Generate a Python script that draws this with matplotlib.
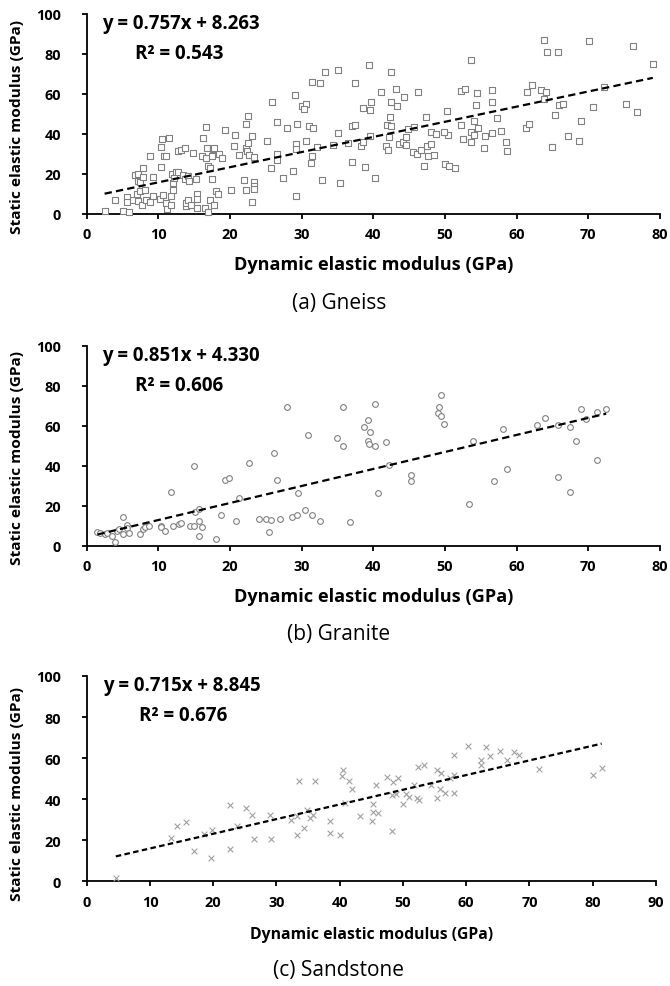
import numpy as np
import matplotlib
matplotlib.use("Agg")
import matplotlib.pyplot as plt

plt.rcParams['font.family'] = ['Open Sans', 'DejaVu Sans']

# (a) Gneiss: dynamic vs static elastic modulus [GPa]
gneiss_x = [2.5, 4.0, 5.1, 5.6, 5.6, 5.9, 6.4, 6.8, 7.2, 7.1, 7.5, 7.0, 7.4, 7.9, 7.9, 7.1, 7.7, 8.2, 8.3,
            8.8, 9.2, 9.2, 8.9, 10.4, 10.5, 10.4, 10.8, 11.0, 11.5, 10.2, 10.7, 11.0, 11.2, 11.7, 11.8, 12.0,
            12.1, 11.9, 12.4, 12.2, 12.8, 12.8, 13.2, 13.7, 13.4, 13.7, 13.8, 13.8, 14.1, 14.2, 14.3, 14.6,
            14.9, 15.3, 15.4, 15.4, 15.4, 16.2, 16.1, 16.6, 16.8, 16.6, 16.9, 17.2, 16.5, 16.9, 17.2, 17.5,
            17.6, 17.5, 17.8, 17.8, 18.1, 18.3, 18.5, 18.9, 19.3, 20.1, 20.6, 20.7, 21.3, 21.9, 22.2, 22.3,
            22.2, 22.5, 22.2, 22.5, 22.6, 23.0, 23.1, 23.3, 23.4, 23.4, 23.4, 25.2, 25.7, 25.9, 26.6, 26.6,
            26.6, 27.4, 27.9, 28.8, 29.1, 29.2, 29.2, 29.2, 29.4,
            30.1, 30.6, 30.3, 31.0, 31.6, 30.6, 31.4, 31.3, 31.4, 32.5, 33.3, 32.2, 32.9, 34.3, 35.1, 35.0,
            35.4, 36.5, 37.0, 37.4, 37.0, 37.4, 38.3, 38.6, 38.9, 38.6, 39.4, 39.5, 39.7, 39.5, 40.2, 41.0,
            41.7, 42.0, 42.2, 42.3, 41.9, 42.4, 42.5, 42.4, 43.2, 43.3, 43.6, 44.3, 44.1, 44.5, 44.6, 44.9,
            45.5, 45.7, 46.1, 46.3, 46.6, 47.1, 47.3, 47.5, 47.6,
            48.1, 48.7, 48.0, 48.5, 50.3, 50.0, 50.4, 50.5, 51.4, 49.8, 52.2, 52.8, 52.2, 52.5, 53.6, 53.6,
            53.6, 54.1, 54.1, 54.3, 54.5, 54.6, 55.4, 55.6, 56.5, 56.6, 56.6, 57.2, 57.8, 58.5, 58.6, 61.3,
            61.7, 61.5, 62.1, 63.4, 63.8, 64.2, 65.7, 63.8, 64.1, 65.9, 65.4, 66.5, 64.9, 67.2, 68.7, 69.0,
            70.1, 70.7, 72.2, 76.3, 75.2, 76.8, 79.0]
gneiss_y = [1.3, 7.2, 1.5, 8.7, 5.8, 1.2, 7.2, 19.7, 20.2, 16.7, 16.2, 10.2, 11.7, 22.8, 18.3, 6.7, 4.5, 12.2, 7.0,
            29.2, 18.5, 9.0, 6.2, 23.5, 37.5, 33.3, 29.2, 28.8, 37.8, 7.5, 9.5, 5.5, 2.5, 8.8, 4.7, 12.2,
            15.3, 20.2, 20.8, 17.8, 21.0, 31.3, 32.2, 33.0, 19.5, 17.5, 4.2, 5.3, 6.8, 19.2, 16.7, 4.5,
            30.3, 17.5, 10.0, 7.5, 3.2, 38.0, 29.2, 43.3, 32.8, 28.2, 24.2, 23.0, 2.8, 0.8, 7.0, 17.5,
            32.7, 28.8, 32.8, 4.5, 11.7, 10.0, 30.0, 28.2, 42.2, 12.2, 34.2, 39.5, 29.5, 17.0, 32.8, 31.5,
            12.2, 49.2, 45.0, 35.3, 29.5, 39.2, 6.2, 28.7, 15.8, 14.2, 12.5, 36.7, 23.2, 56.2, 46.2, 30.0,
            27.2, 17.8, 42.8, 21.3, 59.5, 35.2, 32.5, 8.8, 45.2,
            54.0, 55.0, 52.5, 44.2, 43.2, 36.7, 28.8, 25.3, 66.2, 65.3, 70.8, 33.3, 17.0, 34.5, 72.0, 40.7,
            15.5, 35.3, 44.2, 44.5, 25.8, 65.3, 33.8, 52.8, 23.5, 36.2, 74.5, 52.2, 56.2, 38.8, 17.8, 60.8,
            33.8, 32.2, 38.7, 48.7, 44.5, 43.8, 71.2, 56.2, 62.5, 53.8, 35.2, 58.3, 35.8, 38.3, 34.5, 42.5,
            30.8, 43.3, 30.0, 60.8, 32.2, 24.2, 48.3, 34.2, 29.2,
            41.2, 39.8, 35.2, 29.5, 51.5, 25.2, 39.3, 24.2, 23.2, 41.2, 61.5, 62.3, 44.7, 37.3, 76.8, 41.0,
            36.0, 39.5, 46.5, 54.5, 60.5, 42.8, 33.2, 39.2, 56.0, 62.0, 40.5, 48.2, 41.5, 35.8, 31.7, 42.8,
            45.0, 61.2, 64.3, 61.8, 87.2, 81.2, 80.8, 57.5, 60.8, 54.5, 49.3, 55.0, 33.7, 38.8, 36.3, 46.7,
            86.7, 53.3, 63.3, 84.2, 55.0, 51.0, 75.0]

# (b) Granite
granite_x = [1.5, 1.9, 2.5, 2.8, 3.5, 3.9, 4.2, 4.5, 5.0, 5.0, 5.6, 5.6, 5.9, 7.5, 7.9, 8.1, 8.7, 10.3, 10.4,
             10.9, 11.7, 12.0, 12.9, 13.2, 14.4, 15.0, 15.0, 15.1, 15.7, 15.7, 15.7, 16.1, 18.0, 18.8, 19.3,
             19.9, 20.9, 21.3, 22.7, 24.1, 25.0, 25.7, 25.5, 26.2, 26.6, 27.0, 27.9, 28.6, 29.3, 29.5, 30.4,
             30.9, 31.4, 32.5, 34.9, 35.7, 35.7, 36.7, 38.7, 39.2, 39.5, 39.3, 39.4, 40.2, 40.2, 40.7, 41.7,
             42.2, 45.3, 45.2, 49.5, 49.2, 49.0, 49.4, 49.8, 53.3, 53.9, 56.8, 58.1, 58.7, 62.9, 64.0, 65.7,
             65.8, 67.5, 67.5, 68.3, 69.0, 69.7, 71.2, 71.2, 72.5]
granite_y = [7.0, 6.2, 5.8, 6.2, 5.0, 1.7, 7.2, 8.4, 5.9, 14.5, 10.4, 8.7, 6.4, 5.9, 8.4, 9.2, 10.0, 10.0, 9.2,
             7.2, 26.7, 10.0, 10.9, 11.4, 10.0, 10.0, 40.0, 16.7, 18.4, 12.5, 5.0, 9.2, 3.5, 15.2, 33.0,
             33.8, 12.5, 23.9, 41.5, 13.4, 13.4, 12.9, 7.0, 46.5, 33.0, 13.4, 69.2, 14.4, 15.2, 26.5, 18.0,
             55.5, 15.2, 12.4, 53.8, 69.2, 49.9, 12.0, 59.5, 63.0, 57.0, 52.5, 50.7, 50.0, 70.7, 26.5, 52.0,
             40.5, 35.3, 32.2, 75.4, 69.4, 66.4, 65.0, 60.7, 20.9, 52.5, 32.2, 58.4, 38.4, 60.4, 63.7, 60.4,
             34.2, 27.0, 59.4, 52.5, 68.5, 63.2, 67.0, 43.0, 68.3]

# (c) Sandstone
sand_x = [4.6, 13.4, 14.2, 15.7, 16.9, 18.6, 19.8, 19.7, 22.6, 22.6, 23.8, 25.2, 26.1, 26.5, 28.9, 29.1, 32.3,
          33.2, 33.2, 33.5, 34.4, 34.8, 35.3, 35.7, 36.1, 38.4, 38.4, 40.1, 40.5, 40.4, 41.4, 41.9, 40.8,
          43.2, 45.1, 45.3, 45.3, 46.1, 45.8, 47.5, 48.3, 48.3, 48.5, 48.9, 49.2, 50.0, 50.4, 50.9, 51.8,
          52.3, 52.2, 52.5, 53.4, 54.5, 55.3, 56.0, 55.3, 55.9, 56.6, 57.5, 58.1, 58.1, 58.1, 60.3, 62.3,
          62.4, 63.1, 63.7, 65.3, 66.5, 67.5, 68.4, 71.5, 80.1, 81.4]
sand_y = [1.8, 21.1, 27.1, 29.1, 14.8, 22.9, 25.0, 11.5, 37.2, 15.8, 27.1, 35.9, 32.3, 20.6, 32.3, 20.6, 30.0,
          31.7, 22.6, 48.9, 26.0, 34.9, 30.7, 32.5, 48.8, 29.2, 23.7, 22.7, 54.0, 51.5, 48.9, 45.0, 38.2,
          32.0, 29.4, 37.5, 33.6, 33.1, 46.7, 50.9, 24.7, 41.8, 48.6, 42.3, 50.2, 37.7, 42.6, 41.0, 46.7,
          55.9, 40.5, 39.7, 56.8, 46.7, 54.0, 52.7, 40.7, 45.0, 42.9, 50.2, 51.9, 43.2, 61.3, 65.7, 59.2,
          56.8, 65.2, 60.8, 63.3, 59.2, 62.9, 61.3, 54.8, 52.0, 55.4]

fits = [(0.757, 8.263, 0.543), (0.851, 4.330, 0.606), (0.715, 8.845, 0.676)]
captions = ['(a) Gneiss', '(b) Granite', '(c) Sandstone']
xmaxes = [80, 80, 90]

W, H = 670, 987
fig = plt.figure(figsize=(W / 100, H / 100), dpi=100)
renderer = fig.canvas.get_renderer()


def fx(px):
    return px / W


def fy(py):
    return 1 - py / H


def text_px(s, x, y, target, along='w', **kw):
    # place a text at figure pixels and size it so its extent is about `target` pixels
    t = fig.text(fx(x), fy(y), s, fontsize=10, **kw)
    bb = t.get_window_extent(renderer)
    size = bb.width if along == 'w' else bb.height
    t.set_fontsize(10 * target / size)
    return t


def size_for(s, target, weight='bold'):
    t = fig.text(0, 0, s, fontsize=10, fontweight=weight)
    w = t.get_window_extent(renderer).width
    t.remove()
    return 10 * target / w


tick_fs = size_for('100', 25)

# axes boxes in pixels: left, top, right, bottom
boxes = [(86.7, 15, 660, 215), (86.7, 346.7, 660, 546.7), (86.7, 677, 656, 882.3)]
data = [(gneiss_x, gneiss_y), (granite_x, granite_y), (sand_x, sand_y)]
markers = ['s', 'o', 'x']
eq_left = [101.7, 101.7, 103]
r2_left = [135, 135, 139]

for i in range(3):
    l, t, r, btm = boxes[i]
    xs = np.array(data[i][0])
    ys = np.array(data[i][1])
    a, b, r2 = fits[i]
    xmax = xmaxes[i]
    ax = fig.add_axes([fx(l), fy(btm), (r - l) / W, (btm - t) / H])

    if markers[i] == 'x':
        ax.scatter(xs, ys, marker='x', s=17, c='#a0a0a0', linewidths=0.8, zorder=3, clip_on=False)
    elif markers[i] == 's':
        ax.scatter(xs, ys, marker='s', s=18, facecolors='white', edgecolors='#808080',
                   linewidths=0.8, zorder=3, clip_on=False)
    else:
        ax.scatter(xs, ys, marker='o', s=17, facecolors='white', edgecolors='#808080',
                   linewidths=0.8, zorder=3, clip_on=False)
    lx = np.array([xs.min(), xs.max()])
    ax.plot(lx, a * lx + b, color='black', lw=1.6,
            dashes=(3.3, 1.9) if i < 2 else (2.5, 1.5), zorder=4)

    ax.set_xlim(0, xmax)
    ax.set_ylim(0, 100)
    ax.set_xticks(np.arange(0, xmax + 1, 10))
    ax.set_yticks(np.arange(0, 101, 20))
    ax.spines['top'].set_visible(False)
    ax.spines['right'].set_visible(False)
    ax.spines['left'].set_linewidth(1.3)
    ax.spines['bottom'].set_linewidth(1.3)
    # y labels end at x~60 px, x labels centred ~24 px below the axis
    ax.tick_params(axis='y', direction='out', length=3.6, width=1.3, labelsize=tick_fs,
                   pad=(86.7 - 5 - 61) * 0.72)
    ax.tick_params(axis='x', direction='out', length=3.6, width=1.3, labelsize=tick_fs, pad=6)
    for lab in ax.get_xticklabels() + ax.get_yticklabels():
        lab.set_fontweight('bold')

    text_px('Static elastic modulus (GPa)', 17, btm - 88.5, 213, along='h', rotation=90,
            fontweight='bold', ha='center', va='center')
    text_px('Dynamic elastic modulus (GPa)', (l + r) / 2, btm + (50 if i < 2 else 53),
            278 if i < 2 else 242, fontweight='bold', ha='center', va='center')

    # trend line equation and R2
    text_px('y = %.3fx + %.3f' % (a, b), eq_left[i], t + 9.5, 158, fontweight='bold',
            ha='left', va='center')
    text_px('R² = %.3f' % r2, r2_left[i], t + 39, 89, fontweight='bold',
            ha='left', va='center')

    fig.text(fx(339), fy(btm + 88), captions[i], fontsize=15, ha='center', va='center')

fig.savefig('out.png', dpi=100)
